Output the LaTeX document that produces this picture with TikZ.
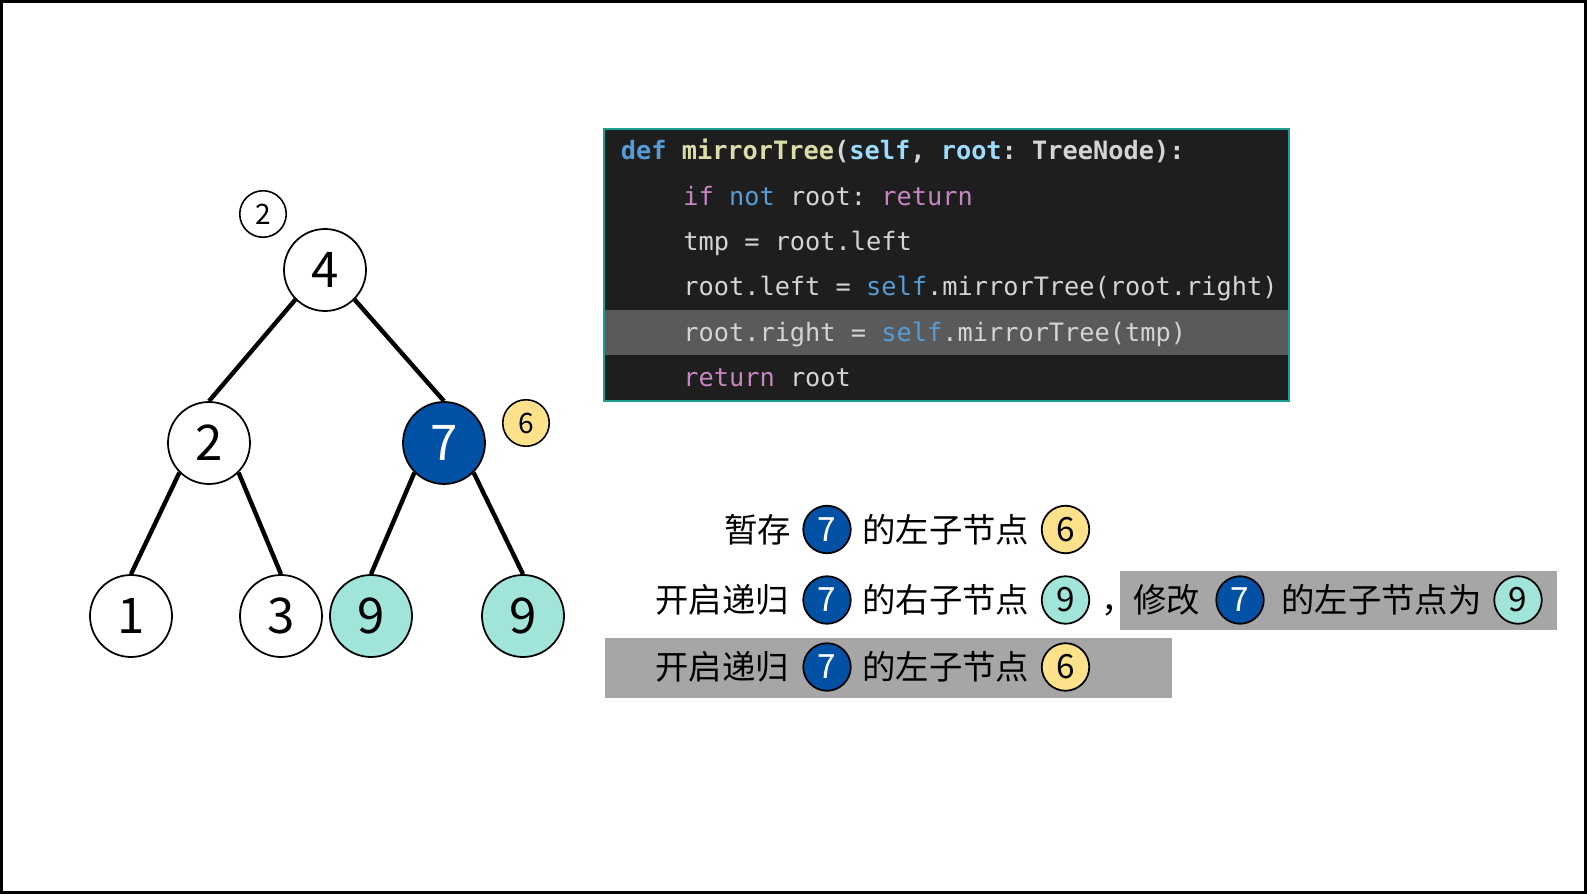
\documentclass[tikz,border=0pt]{standalone}
\usepackage{fontspec}
\setmainfont{Noto Sans CJK SC}
\setmonofont{DejaVu Sans Mono}
\usepackage{tikz}
\usetikzlibrary{positioning,calc}
\definecolor{codebg}{HTML}{1E1E1E}
\definecolor{codehl}{HTML}{5A5A5A}
\definecolor{codeframe}{HTML}{1AA08C}
\definecolor{codetext}{HTML}{D4D4D4}
\definecolor{kwblue}{HTML}{569CD6}
\definecolor{kwpurple}{HTML}{C586C0}
\definecolor{fnyellow}{HTML}{DCDCAA}
\definecolor{parblue}{HTML}{9CDCFE}
\definecolor{nodeblue}{HTML}{0251A5}
\definecolor{nodeteal}{HTML}{A0E4DA}
\definecolor{nodeyellow}{HTML}{FDE28B}
\definecolor{notegray}{HTML}{A6A6A6}
\newcommand{\codefont}{\ttfamily\fontsize{14.4pt}{17pt}\selectfont}
\tikzset{
  treenode/.style={circle, draw, line width=1pt, fill=white, minimum size=1.64cm, inner sep=0pt, font=\fontsize{28pt}{30pt}\selectfont},
  bluenode/.style={treenode, fill=nodeblue, text=white},
  tealnode/.style={treenode, fill=nodeteal},
  treeedge/.style={line width=2.5pt},
  ordersmall/.style={circle, draw, line width=0.9pt, fill=white, minimum size=0.93cm, inner sep=0pt, font=\fontsize{16pt}{18pt}\selectfont},
  notecirc/.style={circle, draw, line width=1pt, fill=white, minimum size=0.95cm, inner sep=0pt, font=\fontsize{19pt}{21pt}\selectfont},
  noteblue/.style={notecirc, fill=nodeblue, text=white},
  noteteal/.style={notecirc, fill=nodeteal},
  noteyellow/.style={notecirc, fill=nodeyellow},
  notetext/.style={anchor=west, inner sep=0pt, text height=16.7pt, text depth=2.3pt, font=\fontsize{19pt}{21pt}\selectfont},
  codebox/.style={fill=codebg, inner sep=0pt, minimum width=13.70cm, minimum height=5.44cm},
  codeline/.style={anchor=base west, inner sep=0pt, text=codetext, font=\codefont}
}
\begin{document}
\begin{tikzpicture}
  \useasboundingbox (0,0) rectangle (31.74,-17.88);
  \draw[line width=0.06cm] (0.03,-0.03) rectangle (31.71,-17.85);

  % tree
  \node[treenode] (n4) at (6.50,-5.40) {4};
  \node[treenode] (n2) at (4.18,-8.86) {2};
  \node[bluenode] (n7) at (8.88,-8.86) {7};
  \node[treenode] (n1) at (2.62,-12.32) {1};
  \node[treenode] (n3) at (5.62,-12.32) {3};
  \node[tealnode] (n9a) at (7.42,-12.32) {9};
  \node[tealnode] (n9b) at (10.46,-12.32) {9};
  \draw[treeedge] (n4.south west) -- (n2.north);
  \draw[treeedge] (n4.south east) -- (n7.north);
  \draw[treeedge] (n2.south west) -- (n1.north);
  \draw[treeedge] (n2.south east) -- (n3.north);
  \draw[treeedge] (n7.south west) -- (n9a.north);
  \draw[treeedge] (n7.south east) -- (n9b.north);
  \node[ordersmall] (o2) at (5.26,-4.28) {2};
  \node[ordersmall, fill=nodeyellow] (o6) at (10.52,-8.46) {6};

  % code
  \node[codebox] (code) at (18.93,-5.30) {};
  \fill[codehl] (12.10,-6.20) rectangle (25.76,-7.10);
  \draw[codeframe, line width=1.2pt] (code.south west) rectangle (code.north east);
  \node[codeline, font=\codefont\bfseries] (c1) at (12.41,-3.20) {\textcolor{kwblue}{def} \textcolor{fnyellow}{mirrorTree}(\textcolor{parblue}{self}, \textcolor{parblue}{root}: TreeNode):};
  \node[codeline] (c2) at (13.66,-4.11) {\textcolor{kwpurple}{if} \textcolor{kwblue}{not} root: \textcolor{kwpurple}{return}};
  \node[codeline] (c3) at (13.66,-5.02) {tmp = root.left};
  \node[codeline] (c4) at (13.66,-5.92) {root.left = \textcolor{kwblue}{self}.mirrorTree(root.right)};
  \node[codeline] (c5) at (13.66,-6.83) {root.right = \textcolor{kwblue}{self}.mirrorTree(tmp)};
  \node[codeline] (c6) at (13.66,-7.74) {\textcolor{kwpurple}{return} root};

  % notes
  \fill[notegray] (22.39,-11.42) rectangle (31.13,-12.61);
  \fill[notegray] (12.10,-12.77) rectangle (23.44,-13.97);
  \node[notetext] (t1a) at (14.48,-10.59) {暂存};
  \node[noteblue] (t1b) at (16.54,-10.59) {7};
  \node[notetext] (t1c) at (17.24,-10.59) {的左子节点};
  \node[noteyellow] (t1d) at (21.31,-10.59) {6};
  \node[notetext] (t2a) at (13.10,-12.00) {开启递归};
  \node[noteblue] (t2b) at (16.54,-12.00) {7};
  \node[notetext] (t2c) at (17.24,-12.00) {的右子节点};
  \node[noteteal] (t2d) at (21.31,-12.00) {9};
  \node[notetext] (t2e) at (22.02,-12.00) {，};
  \node[notetext] (t2f) at (22.66,-12.00) {修改};
  \node[noteblue] (t2g) at (24.80,-12.00) {7};
  \node[notetext] (t2h) at (25.62,-12.00) {的左子节点为};
  \node[noteteal] (t2i) at (30.36,-12.00) {9};
  \node[notetext] (t3a) at (13.10,-13.34) {开启递归};
  \node[noteblue] (t3b) at (16.54,-13.34) {7};
  \node[notetext] (t3c) at (17.24,-13.34) {的左子节点};
  \node[noteyellow] (t3d) at (21.31,-13.34) {6};
\end{tikzpicture}
\end{document}
